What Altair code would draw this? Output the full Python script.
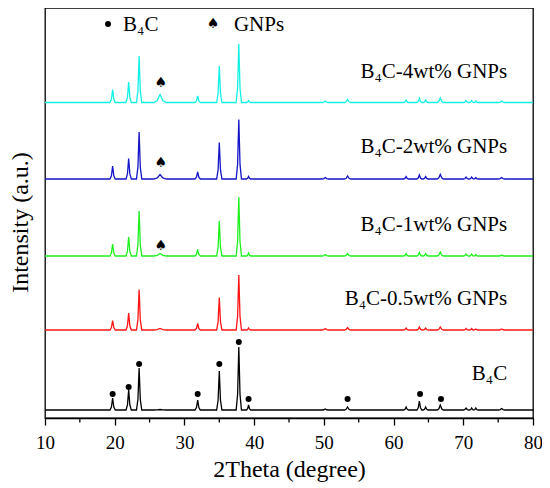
import altair as alt
import pandas as pd

# ---- data ----
PEAK_POS = [19.7, 22.0, 23.5, 26.5, 31.9, 35.0, 37.8, 39.2, 50.2, 53.4,
            61.8, 63.7, 64.6, 66.7, 70.4, 71.2, 71.8, 75.5]
PEAK_HW = [0.38, 0.38, 0.38, 0.9, 0.38, 0.38, 0.38, 0.3, 0.45, 0.45,
           0.35, 0.35, 0.35, 0.45, 0.35, 0.3, 0.3, 0.45]
SERIES = ["B4C", "B4C-0.5wt% GNPs", "B4C-1wt% GNPs", "B4C-2wt% GNPs", "B4C-4wt% GNPs"]
COLORS = ["#000000", "#ff1414", "#1ef01e", "#1414c8", "#14f0e6"]
BASELINE = [8, 88, 162, 239, 315.5]
H_B4C = [12, 20, 42, 0.5, 10, 39, 63, 5, 1, 3, 3, 9, 3, 5, 2, 2, 2, 1.5]
H_05 = [9.5, 17, 40.5, 1.5, 6.5, 32.5, 55, 2, 1.5, 2.5, 2, 3, 2, 3, 1.5, 1.5, 1, 1]
H_1 = [12, 19, 45, 2.5, 6.5, 35, 59, 3, 1.5, 2.5, 2.5, 3.5, 2.5, 4, 2, 2, 1.5, 1]
H_2 = [13, 20.5, 47, 4.5, 7, 36.5, 59.5, 2.5, 1.5, 3, 2.5, 4, 2.5, 4.5, 2, 2, 1.5, 1.5]
H_4 = [13, 20.5, 46.5, 8, 6.5, 36.5, 58.5, 2, 1.5, 3, 2.5, 4.5, 2.5, 4.5, 2, 2, 1.5, 1.5]
HEIGHTS = [H_B4C, H_05, H_1, H_2, H_4]
PROFILE_OFF = [-1.0, -0.45, 0.0, 0.45, 1.0]
PROFILE_FRAC = [0.0, 0.25, 1.0, 0.25, 0.0]

DOT_X = [19.7, 22.0, 23.5, 31.9, 35.0, 37.8, 39.2, 53.4, 63.8, 66.8]
DOT_Y = [24, 31, 54, 24, 54, 76, 19, 19, 24, 19]
SPADE_X = [26.6, 26.6, 26.6]
SPADE_Y = [172, 255, 335]

LABELS = ["B₄C", "B₄C-0.5wt% GNPs", "B₄C-1wt% GNPs", "B₄C-2wt% GNPs", "B₄C-4wt% GNPs"]
LABEL_X = [76.3, 76.3, 76.3, 76.3, 76.3]
LABEL_Y = [38, 113, 187, 265, 340]

X_MAJOR = [10, 20, 30, 40, 50, 60, 70, 80]
X_MINOR = [15, 25, 35, 45, 55, 65, 75]

# ---- build table ----
rows = []
for s, base, hs in zip(SERIES, BASELINE, HEIGHTS):
    k = 0
    rows.append(dict(series=s, x=10.0, y=base, k=k)); k += 1
    for p, w, h in zip(PEAK_POS, PEAK_HW, hs):
        for o, f in zip(PROFILE_OFF, PROFILE_FRAC):
            rows.append(dict(series=s, x=p + o * w, y=base + f * h, k=k)); k += 1
    rows.append(dict(series=s, x=80.0, y=base, k=k))
lines_df = pd.DataFrame(rows)

FONT = "Liberation Serif"
xs = alt.Scale(domain=[10, 80], nice=False)
ys = alt.Scale(domain=[0, 410], nice=False)

lines = alt.Chart(lines_df).mark_line(strokeWidth=1.3).encode(
    x=alt.X("x:Q", scale=xs, axis=alt.Axis(
        values=X_MAJOR, title="2Theta (degree)", tickSize=7, tickColor="black",
        tickWidth=1.3, domainColor="black", domainWidth=1.3, labelFont=FONT,
        labelFontSize=19, labelColor="black", labelPadding=8, titleFont=FONT,
        titleFontSize=24, titleFontWeight="normal", titleColor="black",
        titleBaseline="alphabetic", titleY=58, grid=False, labelFlush=False)),
    y=alt.Y("y:Q", scale=ys, axis=alt.Axis(
        title="Intensity (a.u.)", labels=False, ticks=False, domain=False, grid=False,
        titleFont=FONT, titleFontSize=24, titleFontWeight="normal", titleColor="black",
        titleBaseline="alphabetic", titleX=-18, titleY=214)),
    color=alt.Color("series:N", scale=alt.Scale(domain=SERIES, range=COLORS), legend=None),
    order="k:Q",
    detail="series:N",
)

dots = alt.Chart(pd.DataFrame(dict(x=DOT_X, y=DOT_Y))).mark_point(
    filled=True, shape="circle", size=36, color="black", opacity=1).encode(
    x=alt.X("x:Q", scale=xs), y=alt.Y("y:Q", scale=ys))

spades = alt.Chart(pd.DataFrame(dict(x=SPADE_X, y=SPADE_Y))).mark_text(
    text="♠", font="DejaVu Sans", fontSize=14, color="black", baseline="middle").encode(
    x=alt.X("x:Q", scale=xs), y=alt.Y("y:Q", scale=ys))

labels = alt.Chart(pd.DataFrame(dict(x=LABEL_X, y=LABEL_Y, t=LABELS))).mark_text(
    font=FONT, fontSize=21, color="black", align="right", baseline="alphabetic").encode(
    x=alt.X("x:Q", scale=xs), y=alt.Y("y:Q", scale=ys), text="t:N")

# legend at top
leg_sym = alt.Chart(pd.DataFrame(dict(x=[19.04], y=[394]))).mark_point(
    filled=True, shape="circle", size=36, color="black", opacity=1).encode(
    x=alt.X("x:Q", scale=xs), y=alt.Y("y:Q", scale=ys))
leg_spade = alt.Chart(pd.DataFrame(dict(x=[34.1], y=[394]))).mark_text(
    text="♠", font="DejaVu Sans", fontSize=14, color="black", baseline="middle").encode(
    x=alt.X("x:Q", scale=xs), y=alt.Y("y:Q", scale=ys))
leg_text = alt.Chart(pd.DataFrame(dict(x=[21.2, 37.1], y=[387, 387], t=["B₄C", "GNPs"]))).mark_text(
    font=FONT, fontSize=21, color="black", align="left", baseline="alphabetic").encode(
    x=alt.X("x:Q", scale=xs), y=alt.Y("y:Q", scale=ys), text="t:N")

minor = alt.Chart(pd.DataFrame(dict(x=X_MINOR))).mark_rule(
    color="black", strokeWidth=1.3).encode(
    x=alt.X("x:Q", scale=xs), y=alt.value(410), y2=alt.value(414.5))

chart = alt.layer(lines, dots, spades, labels, leg_sym, leg_spade, leg_text, minor).properties(
    width=488, height=410,
    autosize=alt.AutoSizeParams(type="none"),
    padding={"left": 37, "top": 0, "right": 9, "bottom": 70},
    background="white",
).configure_view(stroke="black", strokeWidth=1.3)

chart.save("out.html", embed_options={"renderer": "svg", "actions": False})
